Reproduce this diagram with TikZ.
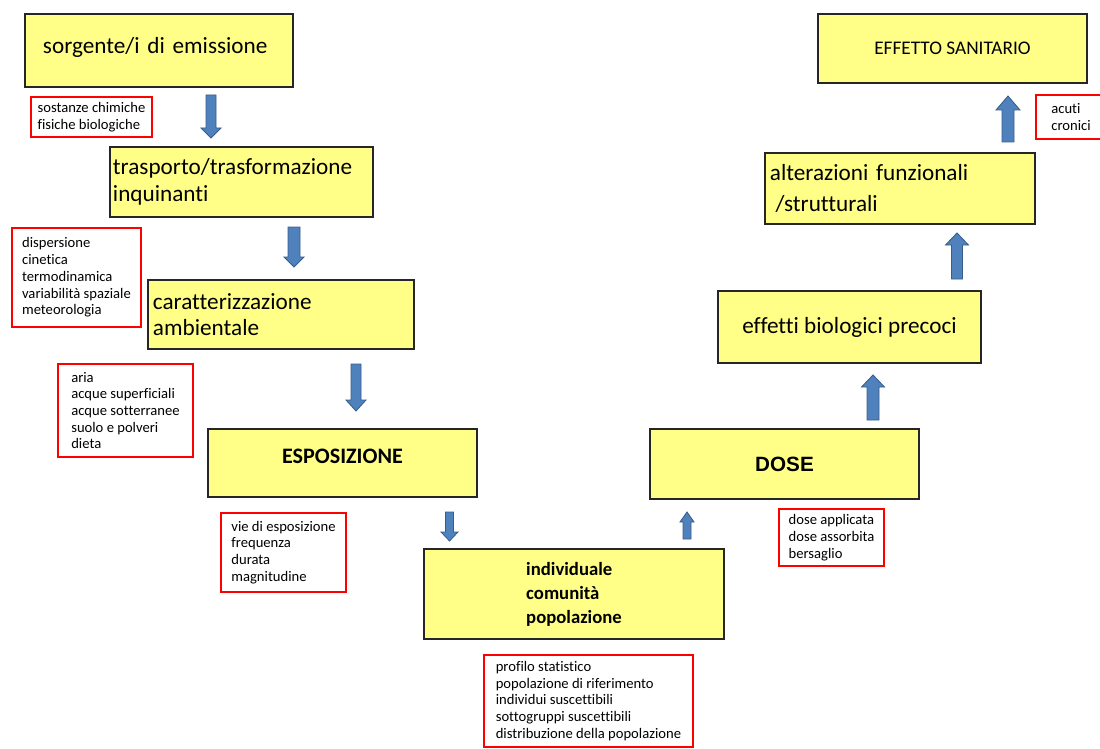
\documentclass[tikz,border=0pt]{standalone}
\usepackage{fontspec}
\setmainfont{Carlito}[Ligatures=NoCommon]
\newfontfamily\arialfont{Liberation Sans}
\usepackage{tikz}
\usetikzlibrary{calc, shadows}
\definecolor{boxyellow}{HTML}{FFFF88}
\definecolor{arrowblue}{HTML}{4F81BD}
\definecolor{arrowedge}{HTML}{385D8A}
\newcommand{\mainsize}{\fontsize{16.5}{19}\selectfont}
\newcommand{\notesize}{\fontsize{10.4}{11.9}\selectfont}
\providecommand{\BlockArrow}[5]{%
  \coordinate(tail) at (#1);
  \coordinate(tip) at (#2);
  \pgfmathsetmacro{\ahalf}{#3*0.0125} % cm, half shaft
  \pgfmathsetmacro{\hhalf}{#4*0.0125} % cm, half head
  \pgfmathsetmacro{\hlen}{#5*0.025} % cm
  \coordinate(neck) at ($ (tip)!\hlen cm!(tail) $);
  \filldraw[fill=arrowblue, draw=arrowedge, line width=0.6pt, line join=miter]
    ($ (tail)!\ahalf cm!90:(tip) $) -- ($ (neck)!\ahalf cm!90:(tip) $)
    -- ($ (neck)!\hhalf cm!90:(tip) $) -- (tip)
    -- ($ (neck)!\hhalf cm!-90:(tip) $) -- ($ (neck)!\ahalf cm!-90:(tip) $)
    -- ($ (tail)!\ahalf cm!-90:(tip) $) -- cycle;
}
\tikzset{
  stage/.style={draw=black!85, line width=0.9pt, fill=boxyellow, inner sep=0pt, align=left,
    font=\mainsize, drop shadow={shadow xshift=0.7pt, shadow yshift=-0.7pt, fill=black!50}},
  note/.style={draw=red, line width=1pt, fill=white, inner sep=0pt, align=left, font=\notesize}
}
\begin{document}
\begin{tikzpicture}[x=0.025cm, y=-0.025cm]

	\useasboundingbox (0,0) rectangle (1100,749);

	% descending branch
	\node[stage, minimum width=6.7cm, minimum height=1.825cm, text width=5.8cm] (sorgente) at (159,50.5) {\raisebox{2pt}[\height][\depth]{sorgente/i di emissione}};
	\node[stage, minimum width=6.575cm, minimum height=1.75cm, text width=6.425cm] (trasporto) at (241.5,182) {trasporto/trasformazione\\inquinanti};
	\node[stage, minimum width=6.65cm, minimum height=1.725cm, text width=6.4cm] (caratt) at (281,314.5) {caratterizzazione\\ambientale};
	\node[stage, minimum width=6.725cm, minimum height=1.7cm, align=center, font=\bfseries\fontsize{15.7}{18}\selectfont] (esposiz) at (342.5,463) {\raisebox{4.5pt}[\height][\depth]{ESPOSIZIONE}};
	\node[stage, minimum width=7.5cm, minimum height=2.25cm, font=\bfseries\fontsize{13.3}{17}\selectfont] (popol) at (574,594) {individuale\\comunità\\popolazione};

	% ascending branch
	\node[stage, minimum width=6.725cm, minimum height=1.75cm, align=center, font=\arialfont\bfseries\fontsize{14.7}{17}\selectfont] (dose) at (784.5,464) {DOSE};
	\node[stage, minimum width=6.575cm, minimum height=1.8cm, align=center, line width=1.3pt] (precoci) at (849.5,327) {effetti biologici precoci};
	\node[stage, minimum width=6.75cm, minimum height=1.775cm, text width=6.5cm, font=\fontsize{16.5}{22}\selectfont] (alteraz) at (900,188.5) {alterazioni funzionali\\\hspace*{4pt}/strutturali};
	\node[stage, minimum width=6.725cm, minimum height=1.725cm, align=center, font=\fontsize{13.7}{16}\selectfont] (effetto) at (952.5,48.5) {EFFETTO SANITARIO};

	% notes
	\node[note, minimum width=3.025cm, minimum height=1cm] (sostanze) at (91.5,117) {sostanze chimiche\\fisiche biologiche};
	\node[note, minimum width=3.225cm, minimum height=2.475cm] (processi) at (76.5,277.5) {dispersione\\cinetica\\termodinamica\\variabilità spaziale\\meteorologia};
	\node[note, minimum width=3.375cm, minimum height=2.325cm] (matrici) at (125.5,410.5) {aria\\acque superficiali\\acque sotterranee\\suolo e polveri\\dieta};
	\node[note, minimum width=3.125cm, minimum height=1.975cm] (vie) at (283.5,552.5) {vie di esposizione\\frequenza\\durata\\magnitudine};
	\node[note, minimum width=5.225cm, minimum height=2.3cm] (profilo) at (588.5,701) {profilo statistico\\popolazione di riferimento\\individui suscettibili\\sottogruppi suscettibili\\distribuzione della popolazione};
	\node[note, minimum width=2.625cm, minimum height=1.425cm] (dosi) at (831.5,537.5) {dose applicata\\dose assorbita\\bersaglio};
	\node[note, minimum width=1.75cm, minimum height=1.1cm] (acuti) at (1071,117) {acuti\\cronici};

	% arrows
	\coordinate (a1) at (211,95);    \coordinate (b1) at (211,138);
	\coordinate (a2) at (294,227);   \coordinate (b2) at (294,267);
	\coordinate (a3) at (356,364);   \coordinate (b3) at (356,411);
	\coordinate (a4) at (449.5,512); \coordinate (b4) at (449.5,541);
	\coordinate (a5) at (687,539);   \coordinate (b5) at (687,512);
	\coordinate (a6) at (873,420);   \coordinate (b6) at (873,375);
	\coordinate (a7) at (957,279);   \coordinate (b7) at (957,233);
	\coordinate (a8) at (1008,142);  \coordinate (b8) at (1008,96);

	\BlockArrow{a1}{b1}{10}{20}{10}
	\BlockArrow{a2}{b2}{12}{20}{10}
	\BlockArrow{a3}{b3}{10}{20}{11}
	\BlockArrow{a4}{b4}{8}{17}{9}
	\BlockArrow{a5}{b5}{8}{14}{10}
	\BlockArrow{a6}{b6}{12}{23}{12}
	\BlockArrow{a7}{b7}{11}{23}{12}
	\BlockArrow{a8}{b8}{12}{24}{14}

\end{tikzpicture}
\end{document}
